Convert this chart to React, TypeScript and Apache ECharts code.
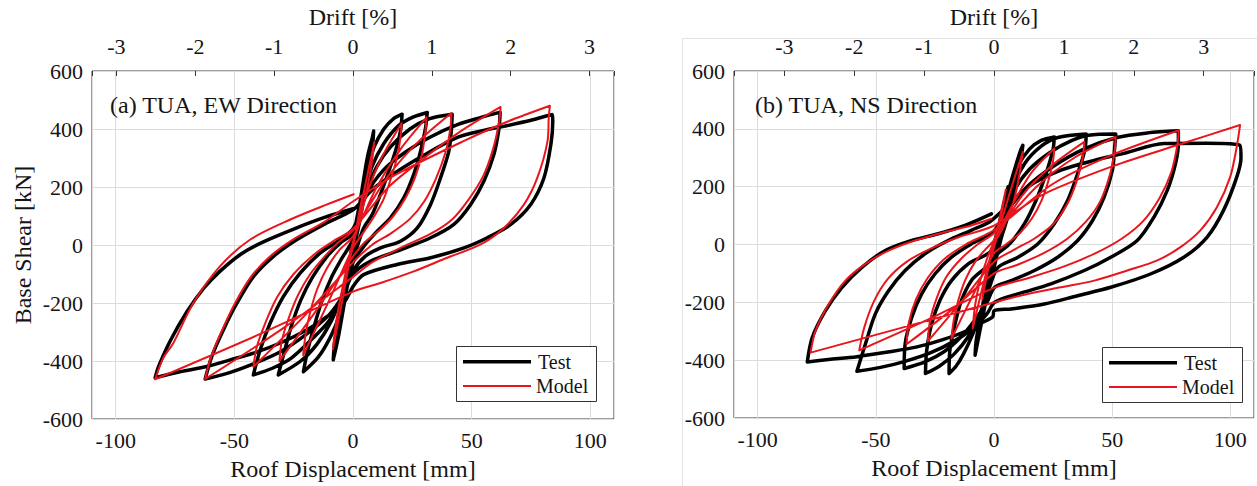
import React, { useEffect, useRef } from "react";
import * as echarts from "echarts";

const FONT = "Liberation Serif";
const TXT = "#151515";
const BLACK = "#000000";
const RED = "#e8161c";
const GRIDC = "#dcdcdc";

// ---------- Panel (a) TUA, EW Direction : Test ----------
const testA_L0 = [[0,0],[2,90],[4,180],[4.2,185],[2,100],[0,15],[-2,-85],[-4,-175],[-4.2,-180],[-2,-95],[0,-10]];
const testA_L1 = [[3,130],[6,280],[8.7,393],[8.7,393],[8.2,340],[6,230],[3,100],[0,-20],[-3,-150],[-6,-290],[-8.3,-396],[-8.3,-396],[-7.8,-340],[-5,-210],[-2,-80],[0,10],
  [3,150],[6,300],[8.5,380],[8.5,380],[8,330],[5.5,200],[2.5,70],[0,-30],[-3,-170],[-6,-310],[-8,-385],[-8,-385],[-7.5,-330],[-4.5,-190],[-1.5,-60],[0,20]];
const testA_L2 = [[3,150],[6,260],[9,340],[13,400],[17,435],[20.7,451],[20.7,451],[20,393],[17.9,324],[15.1,255],[11.6,175],[8.1,105],[4.5,59],[2,0],[0,-60],[-3,-160],[-7,-270],[-11,-340],[-15,-390],[-20.9,-437],[-20.9,-437],[-19,-360],[-16,-270],[-13,-190],[-9,-110],[-5,-50],[0,20]];
const testA_L3 = [[4,160],[8,270],[13,350],[19,410],[25,440],[31.3,457],[31.3,457],[30.6,405],[28.5,324],[25.6,244],[21.4,163],[15.8,94],[10.2,48],[5,0],[0,-60],[-4,-160],[-9,-260],[-15,-340],[-22,-400],[-31.5,-448],[-31.5,-448],[-29,-370],[-26,-280],[-22,-190],[-17,-110],[-11,-40],[-5,10],[0,40]];
const testA_L4 = [[5,170],[10,270],[16,340],[24,400],[32,435],[41.8,451],[41.8,451],[41.5,400],[40.4,324],[36.9,232],[32.7,140],[27.1,59],[20,13],[11.6,-10],[5,-40],[0,-90],[-4,-170],[-10,-260],[-18,-330],[-26,-390],[-34,-425],[-42,-448],[-42,-448],[-39.1,-361],[-34.9,-269],[-29.3,-177],[-22.2,-96],[-13.8,-27],[-5.3,19],[0.3,60]];
const testA_L5 = [[6,180],[13,260],[22,320],[32,370],[44,415],[54,440],[62,458],[62,458],[61.5,400],[59.4,313],[55.2,221],[49.6,140],[42.5,71],[32.7,25],[18.6,-21],[7.3,-56],[0,-100],[-4,-170],[-10,-240],[-20,-310],[-31,-370],[-42,-410],[-52,-440],[-62.3,-462],[-62.3,-462],[-59.5,-384],[-54.6,-292],[-48.9,-200],[-41.9,-108],[-33.5,-39],[-23.6,19],[-10.9,77],[0.3,123]];
const testA_L6 = [[8,190],[18,250],[30,310],[44,371],[55,395],[64,410],[75,430],[84,450],[84,450],[84.2,428],[83.4,347],[80.5,232],[74.9,140],[66.5,71],[56.6,25],[46.8,-10],[32.7,-44],[18.6,-67],[4.5,-102],[0.3,-140],[-3.9,-200],[-10.9,-246],[-19.4,-292],[-30.7,-338],[-41.9,-373],[-51.8,-396],[-61.6,-419],[-72.9,-437],[-83.4,-458],[-83.4,-458],[-82,-420],[-77,-330],[-70,-230],[-63,-150],[-56,-90],[-47,-30],[-38,10],[-25,55],[-12,95],[0,125]];

// ---------- Panel (a) : Model ----------
const modelA_L0 = [[0,0],[4,170],[4,170],[2,70],[0,5],[-4,-165],[-4,-165],[-2,-70],[0,-5]];
const modelA_L1 = [[5,200],[9,355],[9,355],[7.5,260],[5,160],[2.5,70],[0,5],[-4,-170],[-8.5,-360],[-8.5,-360],[-7,-260],[-4.5,-150],[-2,-55],[0,10]];
const modelA_L2 = [[6,180],[12,300],[20.5,420],[20.5,420],[20,370],[18.5,300],[16,230],[13,160],[9,100],[5,50],[0,-10],[-10,-190],[-21,-380],[-21,-380],[-20,-310],[-18,-230],[-15,-150],[-11,-80],[-6,-20],[0,30]];
const modelA_L3 = [[10,200],[20,330],[31,440],[31,440],[30.5,390],[29,310],[26,230],[22,160],[17,100],[11,50],[5,10],[0,-40],[-15,-220],[-31,-400],[-31,-400],[-30,-330],[-27,-250],[-23,-170],[-18,-100],[-12,-40],[-6,10],[0,50]];
const modelA_L4 = [[15,240],[28,360],[41.5,455],[41.5,455],[41,400],[39,320],[35,230],[30,150],[24,90],[16,40],[8,0],[0,-60],[-20,-240],[-42,-420],[-42,-420],[-40.5,-350],[-37,-270],[-32,-180],[-25,-100],[-16,-30],[-7,20],[0,55]];
const modelA_L5 = [[15,200],[30,300],[45,390],[62.2,476],[62.2,476],[61.5,420],[59,330],[55,240],[49,160],[42,90],[33,40],[20,-10],[8,-60],[0,-110],[-30,-290],[-62.3,-462],[-62.3,-462],[-60,-390],[-55.5,-300],[-50,-205],[-43,-110],[-35,-40],[-25,20],[-12,80],[0,150]];
const modelA_L6 = [[18.6,245],[46.8,359],[65,425],[83,480],[83,480],[82.5,440],[82,359],[77.7,232],[72.1,140],[63.6,59],[53.8,2],[39.7,-44],[25.6,-91],[11.6,-131],[0.3,-160],[-40,-310],[-83.4,-463],[-83.4,-463],[-80,-390],[-75.7,-338],[-67.3,-200],[-56,-73],[-43.3,19],[-26.4,88],[-10.9,140],[0.3,175]];

// ---------- Panel (b) TUA, NS Direction : Test ----------
const testB_L0 = [[0,0],[3,100],[6,200],[6,200],[3,80],[0,-20],[-3,-130],[-5,-220],[-5,-220],[-2,-100],[0,-10]];
const testB_L1 = [[4,120],[8,240],[11,320],[12.2,343],[12.2,343],[11.5,300],[9,200],[6,100],[3,20],[0,-80],[-3,-180],[-6,-300],[-8,-383],[-8,-383],[-7.5,-330],[-5,-220],[-3,-130],[0,-40]];
const testB_L2 = [[3,70],[6,180],[10,270],[15,330],[20,360],[25.5,372],[25.5,372],[25,330],[22,245],[17.8,153],[12.9,72],[6.6,2],[0.3,-44],[-2,-120],[-5,-220],[-9,-310],[-13,-380],[-16,-420],[-19,-446],[-19,-446],[-18.7,-368],[-16.5,-275],[-13.8,-194],[-9.6,-125],[-5,-90],[-1.1,-67]];
const testB_L3 = [[3,60],[7,180],[13,280],[20,340],[27,370],[39,382],[39,382],[38.5,330],[35.4,245],[31.2,153],[25.5,72],[18.5,2],[10.1,-44],[1.7,-79],[-2,-150],[-6,-240],[-11,-320],[-17,-380],[-23,-420],[-29,-446],[-29,-446],[-28.5,-368],[-26.4,-275],[-22.9,-194],[-18,-125],[-10.9,-67],[-1.1,-21]];
const testB_L4 = [[3,80],[8,180],[15,260],[24,320],[33,360],[40,378],[51.5,382],[51.5,382],[51,330],[50.1,257],[46.6,164],[41.7,83],[35.4,14],[26.9,-44],[17.1,-90],[7.3,-125],[0.3,-148],[-3,-200],[-8,-260],[-14,-320],[-21,-370],[-29,-405],[-38,-429],[-38,-429],[-37.6,-344],[-34.8,-252],[-30.6,-171],[-25,-102],[-18,-44],[-9.6,2],[-1.1,37]];
const testB_L5 = [[6,120],[14,200],[25,270],[38,330],[52,370],[65,386],[78,393],[78,393],[78,350],[76.8,280],[73.3,187],[67.7,95],[60.6,14],[49.4,-44],[38.2,-90],[24.1,-136],[10.1,-171],[0.3,-200],[-3,-240],[-9,-290],[-17,-335],[-27,-375],[-38,-405],[-48,-425],[-58,-438],[-58,-438],[-54.4,-344],[-50.2,-240],[-44.6,-160],[-37.6,-90],[-29.2,-32],[-19.4,14],[-9.6,49],[-1.1,83]];
const testB_L6 = [[14.3,199],[28.3,257],[42.4,291],[55,315],[72,349],[90,350],[104,343],[104,343],[104.5,300],[102.7,233],[97.1,118],[90.1,25],[80.3,-44],[66.2,-102],[49.4,-148],[35.4,-177],[21.3,-206],[7.3,-223],[0,-229],[-0.5,-250],[-5,-270],[-12,-300],[-22,-330],[-33,-355],[-45,-372],[-58,-388],[-70,-398],[-79,-406],[-79,-406],[-76.9,-322],[-71.3,-229],[-64.3,-148],[-55.9,-79],[-46,-21],[-34.8,14],[-23.6,37],[-12.3,66],[-1.1,106]];

// ---------- Panel (b) : Model ----------
const modelB_L0 = [[0,0],[5,190],[5,190],[2.5,80],[0,10],[-5,-190],[-5,-190],[-2.5,-80],[0,-10]];
const modelB_L1 = [[6,160],[12.2,320],[12.2,320],[10.5,230],[8,140],[4,60],[0,0],[-4,-120],[-9,-290],[-9,-290],[-8,-210],[-6,-130],[-3,-50],[0,10]];
const modelB_L2 = [[8,140],[16,250],[25.5,332],[25.5,332],[25,290],[23,220],[20,150],[16,90],[11,40],[5,0],[0,-30],[-8,-160],[-18,-325],[-18,-325],[-17,-260],[-15,-190],[-12,-120],[-8,-60],[-4,-20],[0,15]];
const modelB_L3 = [[12,170],[24,270],[38.2,355],[38.2,355],[37.5,300],[35,220],[31,140],[25,70],[17,20],[8,-20],[0,-60],[-13,-190],[-28,-335],[-28,-335],[-27,-260],[-24,-180],[-20,-110],[-14,-50],[-7,0],[0,40]];
const modelB_L4 = [[18,200],[34,300],[51.5,372],[51.5,372],[51,320],[49,240],[45,150],[39,80],[31,20],[21,-30],[10,-70],[0,-100],[-17,-220],[-37,-345],[-37,-345],[-36,-270],[-33,-190],[-28,-115],[-21,-50],[-12,0],[0,50]];
const modelB_L5 = [[25,210],[50,310],[78.2,395],[78.2,395],[77.5,340],[75,250],[70,160],[63,80],[54,20],[43,-30],[30,-75],[15,-115],[0,-150],[-28,-260],[-57,-366],[-57,-366],[-55,-290],[-51,-200],[-45,-120],[-37,-60],[-27,-15],[-15,25],[0,65]];
const modelB_L6 = [[20,170],[50,270],[80,350],[104.1,413],[104.1,413],[102.7,338],[99.9,233],[94.3,129],[87.3,49],[78.9,-9],[69.1,-55],[56.4,-90],[42.4,-125],[28.3,-148],[14.3,-171],[0.3,-200],[-40,-290],[-77.6,-374],[-77.6,-374],[-75.5,-298],[-69.9,-206],[-62.9,-125],[-54.4,-67],[-44.6,-21],[-33.4,14],[-20.8,43],[-9.6,66],[-1.1,89]];

const testA = [...testA_L0, ...testA_L1, ...testA_L2, ...testA_L3, ...testA_L4, ...testA_L5, ...testA_L6];
const modelA = [...modelA_L0, ...modelA_L1, ...modelA_L2, ...modelA_L3, ...modelA_L4, ...modelA_L5, ...modelA_L6];
const testB = [...testB_L0, ...testB_L1, ...testB_L2, ...testB_L3, ...testB_L4, ...testB_L5, ...testB_L6];
const modelB = [...modelB_L0, ...modelB_L1, ...modelB_L2, ...modelB_L3, ...modelB_L4, ...modelB_L5, ...modelB_L6];

// axes ranges / labels
const dispRange = [-110, 110];
const shearRange = [-600, 600];
const driftRangeA = [-3.31, 3.31];
const driftRangeB = [-3.72, 3.72];
const panelTitles = ["(a) TUA, EW Direction", "(b) TUA, NS Direction"];
const legendNames = ["Test", "Model"];

function bottomAxis(gridIndex: number) {
  return {
    gridIndex, type: "value", position: "bottom",
    min: dispRange[0], max: dispRange[1], splitNumber: 4,
    axisLine: { show: false }, axisTick: { show: false },
    axisLabel: {
      fontSize: 22, fontFamily: FONT, color: TXT, margin: 10,
      formatter: (v: number) => (Math.abs(v % 50) < 1e-9 ? String(v) : ""),
    },
    splitLine: { show: true, lineStyle: { color: GRIDC, width: 1 } },
    name: "Roof Displacement [mm]",
    nameLocation: "middle", nameGap: 38,
    nameTextStyle: { fontSize: 24, fontFamily: FONT, color: TXT },
  };
}
function topAxis(gridIndex: number, range: number[]) {
  return {
    gridIndex, type: "value", position: "top",
    min: range[0], max: range[1], splitNumber: 7,
    axisLine: { show: false },
    axisTick: { show: true, inside: true, length: 5, lineStyle: { color: "#333", width: 1 } },
    axisLabel: {
      fontSize: 22, fontFamily: FONT, color: TXT, margin: 14,
      formatter: (v: number) => (Math.abs(v - Math.round(v)) < 1e-9 ? String(Math.round(v)) : ""),
    },
    splitLine: { show: false },
    name: "Drift [%]", nameLocation: "middle", nameGap: 42,
    nameTextStyle: { fontSize: 24, fontFamily: FONT, color: TXT },
  };
}
function leftAxis(gridIndex: number, withName: boolean) {
  return {
    gridIndex, type: "value",
    min: shearRange[0], max: shearRange[1], interval: 200,
    axisLine: { show: false }, axisTick: { show: false },
    axisLabel: { fontSize: 22, fontFamily: FONT, color: TXT, margin: 9 },
    splitLine: { show: true, lineStyle: { color: GRIDC, width: 1 } },
    name: withName ? "Base Shear [kN]" : "",
    nameLocation: "middle", nameGap: 57, nameRotate: 90,
    nameTextStyle: { fontSize: 24, fontFamily: FONT, color: TXT },
  };
}
function legend(x: number, y: number) {
  return {
    type: "group", x, y, z: 100,
    children: [
      { type: "rect", z: 100, shape: { x: 0.5, y: 0.5, width: 140, height: 55 }, style: { fill: "#fff", stroke: "#333", lineWidth: 1 } },
      { type: "rect", z: 101, shape: { x: 7, y: 14, width: 68, height: 3.5 }, style: { fill: BLACK } },
      { type: "rect", z: 101, shape: { x: 7, y: 39, width: 68, height: 2 }, style: { fill: RED } },
      { type: "text", z: 101, x: 82, y: 16, style: { text: legendNames[0], fontSize: 20, fontFamily: FONT, fill: TXT, verticalAlign: "middle" } },
      { type: "text", z: 101, x: 80, y: 40, style: { text: legendNames[1], fontSize: 20, fontFamily: FONT, fill: TXT, verticalAlign: "middle" } },
    ],
  };
}

export default function App() {
  const ref = useRef<HTMLDivElement>(null);
  useEffect(() => {
    const chart = echarts.init(ref.current!, undefined, { renderer: "svg", width: 1257, height: 486 });
    const lineSeries = (data: number[][], xi: number, yi: number, color: string, width: number, z: number) => ({
      type: "line", data, xAxisIndex: xi, yAxisIndex: yi, showSymbol: false, symbol: "none",
      smooth: 0.3, silent: true, z,
      lineStyle: { color, width, join: "round", cap: "round" },
    });
    chart.setOption({
      animation: false,
      backgroundColor: "#ffffff",
      textStyle: { fontFamily: FONT },
      grid: [
        { left: 92, top: 71, width: 522, height: 348, show: true, borderColor: "#3a3a3a", borderWidth: 1, backgroundColor: "transparent", containLabel: false },
        { left: 734, top: 71, width: 522, height: 347, show: true, borderColor: "#3a3a3a", borderWidth: 1, backgroundColor: "transparent", containLabel: false },
      ],
      xAxis: [bottomAxis(0), topAxis(0, driftRangeA), bottomAxis(1), topAxis(1, driftRangeB)],
      yAxis: [leftAxis(0, true), leftAxis(1, false)],
      series: [
        lineSeries(testA, 0, 0, BLACK, 3.5, 2),
        lineSeries(modelA, 0, 0, RED, 2, 3),
        lineSeries(testB, 2, 1, BLACK, 3.5, 2),
        lineSeries(modelB, 2, 1, RED, 2, 3),
      ],
      graphic: [
        { type: "rect", z: -10, silent: true, shape: { x: 682.5, y: 38.5, width: 700, height: 600 }, style: { fill: "none", stroke: "#e4e4e4", lineWidth: 1 } },
        { type: "text", x: 110, y: 105, z: 100, style: { text: panelTitles[0], fontSize: 24, fontFamily: FONT, fill: TXT, verticalAlign: "middle" } },
        { type: "text", x: 755, y: 105, z: 100, style: { text: panelTitles[1], fontSize: 24, fontFamily: FONT, fill: TXT, verticalAlign: "middle" } },
        legend(456, 346),
        legend(1102, 347),
      ],
    });
    return () => chart.dispose();
  }, []);
  return <div ref={ref} style={{ position: "absolute", left: 0, top: 0, width: 1257, height: 486, background: "#fff" }} />;
}
